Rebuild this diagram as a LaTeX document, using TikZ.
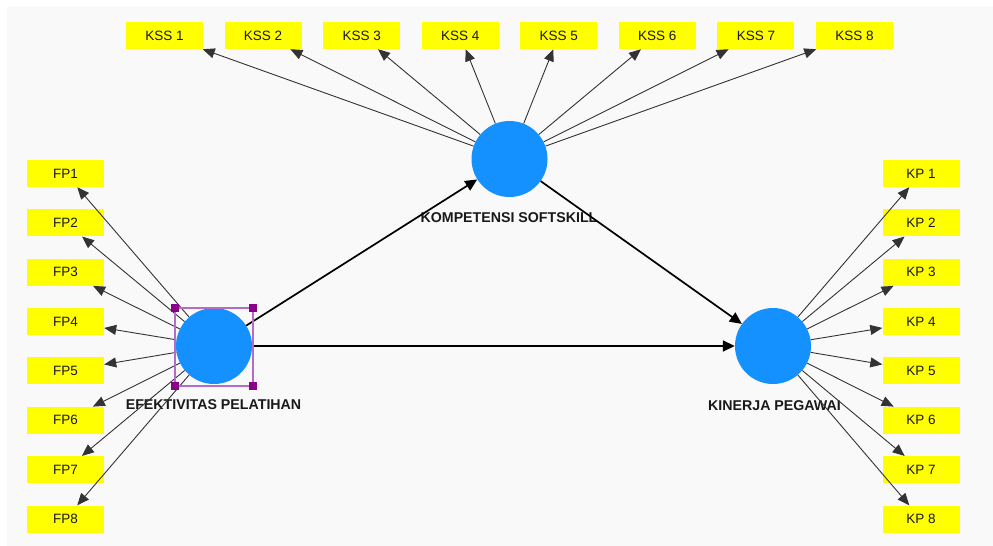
\documentclass[tikz,border=0pt]{standalone}
\usepackage{fontspec}
\setmainfont{Liberation Sans}
\usetikzlibrary{arrows.meta}
\definecolor{panel}{HTML}{F9F9F9}
\definecolor{lv}{HTML}{1590FF}
\definecolor{ind}{HTML}{FFFF00}
\definecolor{sel}{HTML}{8B008B}
\definecolor{sellight}{HTML}{B56CC4}
\begin{document}
\begin{tikzpicture}[x=1pt,y=-1pt,
  indbox/.style={fill=ind, minimum width=77pt, minimum height=27pt, inner sep=0pt, text=black!90, font=\fontsize{13.5}{13.5}\selectfont},
  latent/.style={circle, fill=lv, minimum size=76pt, inner sep=0pt},
  lvlabel/.style={font=\fontsize{14.2}{14.2}\selectfont\bfseries, text=black!90, inner sep=0pt},
  loadline/.style={draw=black!80, line width=0.9pt, -{Triangle[length=12pt,width=10pt]}},
  pathline/.style={draw=black, line width=1.7pt, -{Triangle[length=12pt,width=11pt]}},
  handle/.style={fill=sel, minimum size=7.5pt, inner sep=0pt}]
\useasboundingbox (0,0) rectangle (993,546);
\fill[white] (0,0) rectangle (993,546);
\fill[panel] (7,7) rectangle (993,546);

% latent variables
\node[latent] (ef) at (214,346) {};
\node[latent] (ks) at (509.5,159) {};
\node[latent] (kp) at (773,346) {};

\node[lvlabel] (efl) at (213.5,405) {EFEKTIVITAS PELATIHAN};
\node[lvlabel] (ksl) at (509,218) {KOMPETENSI SOFTSKILL};
\node[lvlabel] (kpl) at (774.5,406) {KINERJA PEGAWAI};

% indicators
\foreach \i in {1,...,8} {
  \node[indbox] (kss\i) at ({164.5+(\i-1)*98.57},35.5) {KSS \i};
  \node[indbox] (fp\i) at (65.5,{173.5+(\i-1)*49.36}) {FP\i};
  \node[indbox] (kpi\i) at (921,{173.5+(\i-1)*49.36}) {KP \i};
}

% loadings
\foreach \i in {1,...,8} {
  \draw[loadline] (ks) -- (kss\i);
  \draw[loadline] (ef) -- (fp\i);
  \draw[loadline] (kp) -- (kpi\i);
}

% structural paths
\draw[pathline] (ef) -- (ks);
\draw[pathline] (ks) -- (kp);
\draw[pathline] (ef) -- (kp);

% selection frame
\coordinate (s1) at (175,308);
\coordinate (s2) at (253,308);
\coordinate (s3) at (253,386);
\coordinate (s4) at (175,386);
\draw[sellight, line width=1.3pt] (s1) -- (s2) -- (s3) -- (s4) -- cycle;
\node[handle] (h1) at (s1) {};
\node[handle] (h2) at (s2) {};
\node[handle] (h3) at (s3) {};
\node[handle] (h4) at (s4) {};
\end{tikzpicture}
\end{document}
